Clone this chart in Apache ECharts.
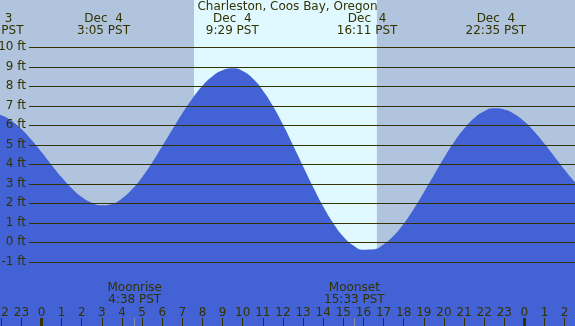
<!DOCTYPE html>
<html>
<head>
<meta charset="utf-8">
<script src="https://cdn.jsdelivr.net/npm/echarts@6/dist/echarts.min.js"></script>
<style>
    html, body { margin: 0; padding: 0; }
    #tide-chart { width: 575px; height: 326px; }
</style>
</head>
<body>
<div id="tide-chart"></div>
<script>
// hours since Dec 4 0:00 PST, heights in ft (every half hour)
var tideHours = [-3, -2.5, -2, -1.5, -1, -0.5, 0, 0.5, 1, 1.5, 2, 2.5, 3, 3.5, 4, 4.5, 5, 5.5, 6, 6.5, 7, 7.5, 8, 8.5, 9, 9.5,
    10, 10.5, 11, 11.5, 12, 12.5, 13, 13.5, 14, 14.5, 15, 15.5, 16, 16.5, 17, 17.5, 18, 18.5, 19, 19.5,
    20, 20.5, 21, 21.5, 22, 22.5, 23, 23.5, 24, 24.5, 25, 25.5, 26, 26.5, 27];
var tideFeet = [6.54, 6.62, 6.52, 6.24, 5.81, 5.26, 4.63, 3.97, 3.33, 2.77, 2.32, 2.03, 1.90, 1.97, 2.25, 2.72, 3.34, 4.09, 4.92, 5.78, 6.62, 7.38, 8.03, 8.52, 8.82, 8.92,
    8.78, 8.40, 7.79, 6.99, 6.04, 4.98, 3.90, 2.83, 1.83, 0.98, 0.30, -0.16, -0.38, -0.36, -0.11, 0.33, 0.95, 1.71, 2.56, 3.44,
    4.32, 5.13, 5.82, 6.36, 6.72, 6.87, 6.81, 6.58, 6.19, 5.67, 5.05, 4.39, 3.72, 3.10, 2.57];

var extremeHours = [-2.4, 3.083, 9.483, 16.183, 22.583];
var extremeDays = ['Dec  3', 'Dec  4', 'Dec  4', 'Dec  4', 'Dec  4'];
var extremeTimes = ['21:36 PST', '3:05 PST', '9:29 PST', '16:11 PST', '22:35 PST'];

var moonHours = [4.633, 15.55];
var moonNames = ['Moonrise', 'Moonset'];
var moonTimes = ['4:38 PST', '15:33 PST'];

var sunriseHour = 7.58;
var sunsetHour = 16.67;
var midnightHours = [0, 24];

var hourTicks = [-3, -2, -1, 0, 1, 2, 3, 4, 5, 6, 7, 8, 9, 10, 11, 12, 13, 14, 15, 16, 17, 18, 19, 20, 21, 22, 23, 24, 25, 26, 27];

var textColor = '#333300';
var font = 'DejaVu Sans';

var tideData = tideHours.map(function (h, i) { return [h, tideFeet[i]]; });

function labelFor(list, v, texts) {
    for (var i = 0; i < list.length; i++) {
        if (Math.abs(list[i] - v) < 0.01) return texts(i);
    }
    return '';
}

// shared settings for the overlay x axes of the main grid
function hourAxis(extra) {
    var a = {
        gridIndex: 0, type: 'value', min: -3, max: 27, position: 'bottom', z: 6,
        axisLine: { show: false, onZero: false },
        splitLine: { show: false }
    };
    for (var k in extra) a[k] = extra[k];
    return a;
}

var option = {
    animation: false,
    backgroundColor: '#b0c4de',
    title: {
        text: 'Charleston, Coos Bay, Oregon',
        left: 'center',
        top: 1,
        padding: 0,
        z: 6,
        textStyle: { fontFamily: font, fontSize: 12, fontWeight: 'normal', color: textColor }
    },
    grid: [
        { left: -18.86, right: -9.74, top: 0, bottom: 0, outerBoundsMode: 'none', containLabel: false },
        { left: 29, right: 0, top: 47.3, bottom: 64.2, outerBoundsMode: 'none', containLabel: false }
    ],
    xAxis: [
        hourAxis({
            axisTick: { inside: true, length: 8, customValues: hourTicks, lineStyle: { color: textColor } },
            axisLabel: {
                inside: true, margin: 7, customValues: hourTicks, hideOverlap: false,
                fontFamily: font, fontSize: 12, color: textColor,
                formatter: function (v) { return String(((v % 24) + 24) % 24); }
            }
        }),
        hourAxis({
            axisTick: { inside: true, length: 8, customValues: midnightHours, lineStyle: { color: textColor, width: 3 } },
            axisLabel: { show: false }
        }),
        hourAxis({
            axisTick: { inside: true, length: 8, customValues: moonHours, lineStyle: { color: '#8890b0' } },
            axisLabel: {
                inside: true, margin: 20, customValues: moonHours, hideOverlap: false,
                fontFamily: font, fontSize: 12, lineHeight: 12, color: textColor,
                formatter: function (v) {
                    return labelFor(moonHours, v, function (i) { return moonNames[i] + '\n' + moonTimes[i]; });
                }
            }
        }),
        hourAxis({
            position: 'top',
            axisTick: { show: false },
            axisLabel: {
                inside: true, margin: 13, customValues: extremeHours, hideOverlap: false,
                fontFamily: font, fontSize: 12, lineHeight: 12, color: textColor,
                formatter: function (v) {
                    return labelFor(extremeHours, v, function (i) { return extremeDays[i] + '\n' + extremeTimes[i]; });
                }
            }
        }),
        { gridIndex: 1, type: 'value', min: 0, max: 1, show: false }
    ],
    yAxis: [
        { gridIndex: 0, type: 'value', min: -4.292, max: 12.426, show: false },
        {
            gridIndex: 1, type: 'value', min: -1, max: 10, interval: 1, z: 5,
            axisLine: { show: false, onZero: false },
            axisTick: { show: false },
            splitLine: { show: true, lineStyle: { color: textColor, width: 1 } },
            axisLabel: {
                margin: 3, fontFamily: font, fontSize: 12, color: textColor,
                formatter: '{value} ft'
            }
        }
    ],
    series: [
        {
            type: 'line', xAxisIndex: 0, yAxisIndex: 0, z: 1, silent: true,
            data: [],
            markArea: {
                silent: true,
                itemStyle: { color: '#e0f8ff' },
                data: [[{ xAxis: sunriseHour }, { xAxis: sunsetHour }]]
            }
        },
        {
            name: 'tide', type: 'line', xAxisIndex: 0, yAxisIndex: 0, z: 2,
            data: tideData,
            smooth: true,
            symbol: 'none',
            lineStyle: { width: 0 },
            areaStyle: { color: '#4262d6', opacity: 1, origin: 'start' }
        }
    ]
};

var tideChart = echarts.init(document.getElementById('tide-chart'));
tideChart.setOption(option);
</script>
</body>
</html>
